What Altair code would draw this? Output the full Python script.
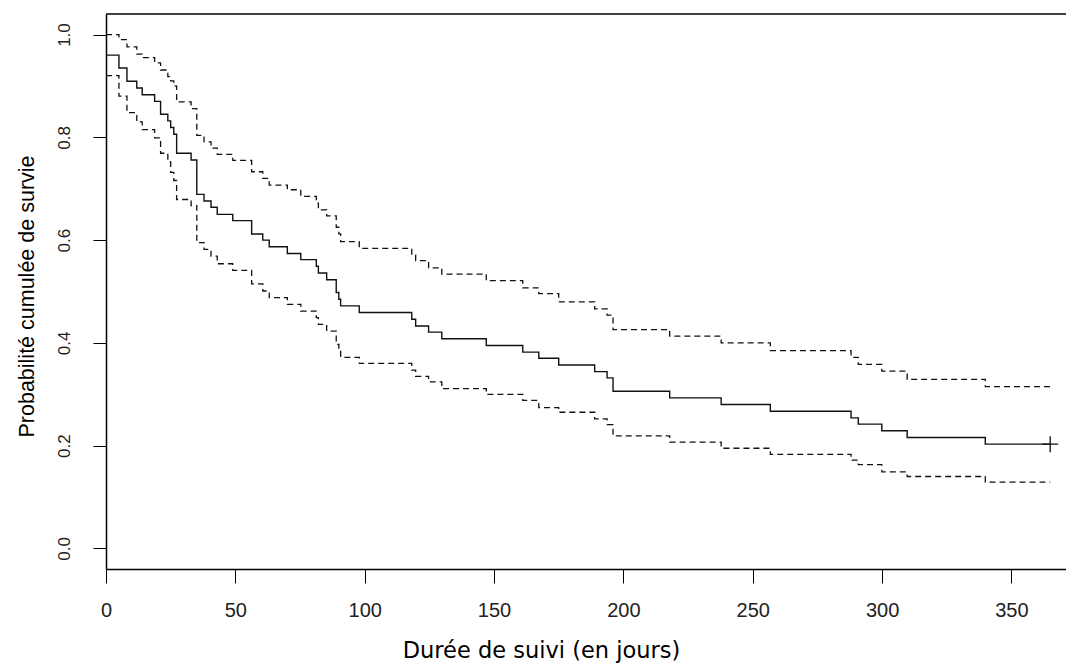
import altair as alt
import pandas as pd

# ---- data (Kaplan-Meier estimate with 95% CI) ----
days = [0, 5.0, 8.1, 11.9, 14.0, 18.8, 21.1, 23.9, 25.0, 26.2,
        27.3, 32.9, 35.1, 37.9, 40.6, 43.0, 49.0, 56.3, 60.6, 63.1,
        70.1, 75.3, 81.3, 82.1, 85.3, 89.0, 90.0, 90.7, 97.9, 118.2,
        119.7, 124.7, 129.8, 147.0, 161.1, 167.3, 175.0, 188.9, 193.7, 196.0,
        217.9, 237.8, 256.8, 288.0, 290.8, 299.9, 309.7, 339.9, 365]
surv = [0.960, 0.935, 0.909, 0.896, 0.883, 0.870, 0.845, 0.832, 0.819, 0.806,
        0.769, 0.756, 0.689, 0.676, 0.664, 0.650, 0.638, 0.612, 0.600, 0.587,
        0.574, 0.562, 0.549, 0.536, 0.523, 0.498, 0.485, 0.472, 0.459, 0.446,
        0.433, 0.421, 0.408, 0.395, 0.382, 0.370, 0.357, 0.344, 0.332, 0.306,
        0.293, 0.280, 0.267, 0.254, 0.242, 0.229, 0.216, 0.203, 0.203]
upper = [1.000, 0.990, 0.976, 0.962, 0.955, 0.945, 0.931, 0.918, 0.910, 0.900,
         0.869, 0.856, 0.804, 0.791, 0.779, 0.767, 0.755, 0.733, 0.720, 0.707,
         0.698, 0.685, 0.672, 0.659, 0.647, 0.625, 0.612, 0.597, 0.584, 0.571,
         0.560, 0.546, 0.534, 0.521, 0.507, 0.496, 0.480, 0.466, 0.454, 0.426,
         0.413, 0.400, 0.385, 0.372, 0.358, 0.345, 0.329, 0.315, 0.315]
lower = [0.920, 0.880, 0.848, 0.830, 0.815, 0.799, 0.769, 0.752, 0.732, 0.716,
         0.679, 0.667, 0.595, 0.582, 0.569, 0.554, 0.541, 0.515, 0.501, 0.488,
         0.475, 0.462, 0.449, 0.436, 0.423, 0.397, 0.384, 0.372, 0.360, 0.347,
         0.335, 0.324, 0.311, 0.300, 0.288, 0.274, 0.265, 0.252, 0.241, 0.219,
         0.207, 0.195, 0.183, 0.172, 0.163, 0.149, 0.140, 0.129, 0.129]
censor_day = [365]
censor_surv = [0.203]

x_ticks = [0, 50, 100, 150, 200, 250, 300, 350]
y_ticks = [0.0, 0.2, 0.4, 0.6, 0.8, 1.0]
x_title = "Durée de suivi (en jours)"
y_title = "Probabilité cumulée de survie"

# ---- tables ----
df = pd.DataFrame({"jour": days, "p": surv})
ci = pd.DataFrame({"jour": days + days,
                   "p": upper + lower,
                   "borne": ["haut"] * len(days) + ["bas"] * len(days)})
cens = pd.DataFrame({"jour": censor_day, "p": censor_surv})
topdf = pd.DataFrame({"a": [0]})

W, H = 960, 555
xs = alt.Scale(domain=[0, 371.1], nice=False, zero=False)
ys = alt.Scale(domain=[-0.04, 1.04], nice=False, zero=False)

x_axis = alt.Axis(values=x_ticks, title=x_title, grid=False, orient="bottom",
                  tickSize=14, tickWidth=1, domainWidth=1.5,
                  labelFont="Liberation Sans", labelFontSize=20, labelPadding=17,
                  labelFlush=False, labelOverlap=False,
                  titleFont="DejaVu Sans", titleFontSize=22.5, titleFontWeight="normal",
                  titleX=435, titleY=88, titleBaseline="alphabetic", titleAlign="center",
                  domainColor="black", tickColor="black", labelColor="#222",
                  titleColor="black")
y_axis = alt.Axis(values=y_ticks, format=".1f", title=y_title, grid=False, orient="left",
                  tickSize=13, tickWidth=1, domainWidth=1.5,
                  labelFont="Liberation Sans", labelFontSize=17, labelPadding=24,
                  labelAngle=270, labelAlign="center", labelBaseline="alphabetic",
                  labelFlush=False, labelOverlap=False,
                  titleFont="Liberation Sans", titleFontSize=21.5, titleFontWeight="normal",
                  titleAngle=270, titleX=-73, titleY=282,
                  titleBaseline="alphabetic", titleAlign="center",
                  domainColor="black", tickColor="black", labelColor="#222",
                  titleColor="black")

X = alt.X("jour:Q", scale=xs, axis=x_axis)
Y = alt.Y("p:Q", scale=ys, axis=y_axis)

main = alt.Chart(df).mark_line(interpolate="step-after", color="#111",
                               strokeWidth=1.4).encode(x=X, y=Y)
bands = alt.Chart(ci).mark_line(interpolate="step-after", color="#111",
                                strokeWidth=1.3, strokeDash=[6, 4]).encode(
    x=X, y=Y, detail="borne:N")
cross = alt.Chart(cens).mark_point(shape="M-1,0L1,0M0,-1L0,1", size=256,
                                   filled=False, color="#111", strokeWidth=1.3,
                                   opacity=1).encode(x=X, y=Y)
topline = alt.Chart(topdf).mark_rule(color="black", strokeWidth=1.5).encode(
    x=alt.value(0), x2=alt.value(W), y=alt.value(0)
)

chart = alt.layer(main, bands, cross, topline).resolve_axis(
    x="shared", y="shared"
).properties(
    width=W, height=H,
    autosize=alt.AutoSizeParams(type="none"),
    padding={"left": 98, "top": 6, "right": 0, "bottom": 98},
    background="white",
).configure_view(stroke="transparent", strokeWidth=0)

chart.save("out.html", embed_options={"renderer": "svg", "actions": False})
